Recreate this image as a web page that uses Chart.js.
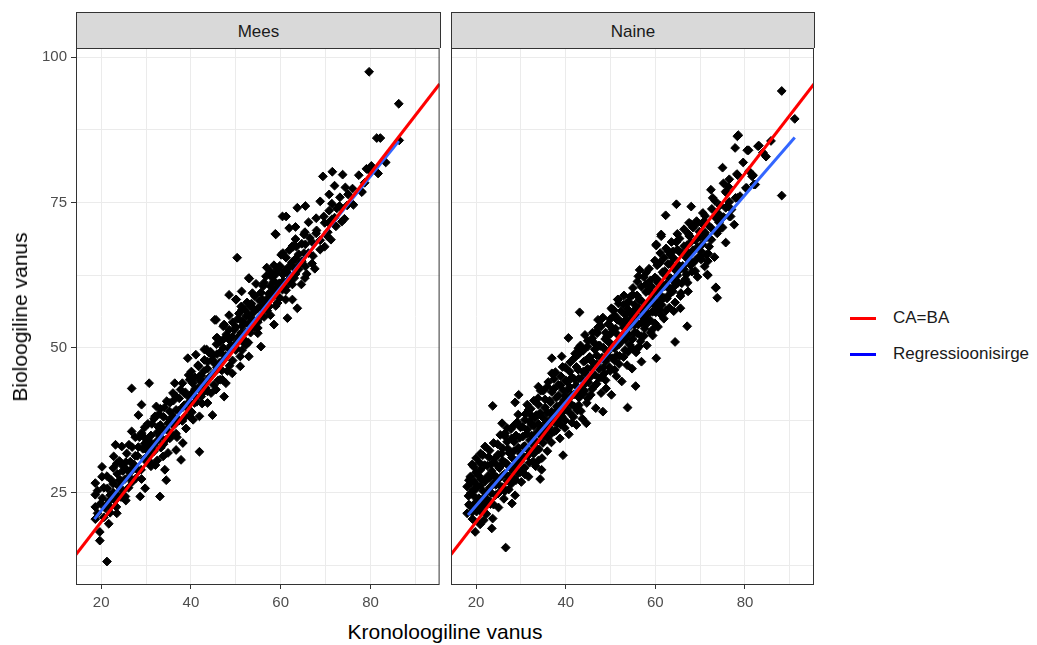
<!DOCTYPE html>
<html>
<head>
<meta charset="utf-8">
<script src="https://cdn.jsdelivr.net/npm/chart.js@4.4.1/dist/chart.umd.min.js"></script>
<style>
  body { margin: 0; background: #fff; font-family: "Liberation Sans", Arial, sans-serif; }
  #wrap { position: relative; width: 1037px; height: 645px; }
  canvas { position: absolute; }
  .strip { position: absolute; top: 12px; height: 35px; background: #d9d9d9; border: 1px solid #333;
           border-bottom: none; font-size: 17px; color: #1a1a1a; text-align: center; line-height: 37px; }
  .title { position: absolute; font-size: 21px; color: #000; white-space: nowrap; }
  .leg { position: absolute; font-size: 17px; color: #1a1a1a; white-space: nowrap; line-height: 20px; }
  .key { position: absolute; width: 26px; height: 3px; }
</style>
</head>
<body>
<div id="wrap">
  <canvas id="mees" width="445" height="580" style="left:0;top:40px"></canvas>
  <canvas id="naine" width="375" height="580" style="left:445px;top:40px"></canvas>
  <div class="strip" style="left:76px;width:363px">Mees</div>
  <div class="strip" style="left:451px;width:362px">Naine</div>
  <div class="title" style="left:445px;top:632px;transform:translate(-50%,-50%)">Kronoloogiline vanus</div>
  <div class="title" style="left:20px;top:317px;transform:translate(-50%,-50%) rotate(-90deg)">Bioloogiline vanus</div>
  <div class="key" style="left:850px;top:317px;background:#ff0000"></div>
  <div class="leg" style="left:893px;top:308px">CA=BA</div>
  <div class="key" style="left:850px;top:353px;background:#0000ff"></div>
  <div class="leg" style="left:893px;top:344px">Regressioonisirge</div>
</div>
<script>
// telgede jaotised
const xTicks = [20, 30, 40, 50, 60, 70, 80, 90];
const xLabels = [20, 40, 60, 80];
const yTicks = [12.5, 25, 37.5, 50, 62.5, 75, 87.5, 100];
const yLabels = [25, 50, 75, 100];

// CA=BA joon (y = x)
const caBa = [14.4, 95.4];

// regressioonisirged
const meesFit = [[18.5, 20.5], [86.3, 85.6]];
const naineFit = [[18.2, 21.2], [91.1, 86.2]];

// mehed: [kronoloogiline, bioloogiline]
const meesPoints = [
  [79.7,97.5],[86.3,92],[81.4,86.1],[82.2,86.1],[86.4,85.7],[21.3,13.2],[19.7,16.8],[19.7,18.3],[18.7,20.5],[21.7,19.7],
  [18.7,22.6],[18.7,24.7],[18.7,26.7],[20.2,27.8],[20.2,29.5],[22.8,31.3],[23.2,33.3],[24.6,33],[26.8,43],[30.7,43.9],
  [23.5,30.1],[25.7,29],[24.3,27.2],[25.4,24.4],[23.5,21.5],[22,22.6],[26.5,30.4],[29,40.2],[28.3,38.4],[26.8,35.6],
  [29.4,34.7],[30.1,32.4],[33.1,24.4],[34.5,27.2],[29.8,25.8],[28.7,24.4],[32.3,39.9],[32,38.2],[32.7,36.4],[33.1,34.7],
  [30.9,33.6],[33.8,31.3],[34.2,29],[31.2,30.1],[36.4,43.9],[36.7,41.6],[35.3,40.5],[36,38.2],[34.9,37],[38.2,33.6],
  [37.8,30.7],[36.7,32.4],[38.6,42.2],[39.7,44.5],[39.3,48.2],[41.1,48.8],[43,49.7],[44.1,49.1],[41.9,45.1],[40.4,43.9],
  [40.8,40.5],[42.6,42.2],[43.7,40.5],[44.8,38.4],[41.9,38.2],[39.7,38.2],[41.9,32.1],[44.8,47.9],[46.3,47.4],[47,44.5],
  [45.6,42.8],[47.4,41.6],[45.6,54.8],[47.4,54],[48.5,53.1],[45.9,51.7],[48.5,59.1],[50.3,65.5],[52.9,62],[50,58.3],
  [51.4,56.6],[53.3,57.4],[51,48.5],[52.9,48.5],[50,50.8],[51.8,50.8],
  [69.4,79.5],[71.5,80.3],[73.8,79.8],[79.1,80.8],[81.7,80],[78,76.9],[80.2,81.3],[63.7,74.1],[65.5,74.4],[60.4,72.6],
  [61.2,72.6],[61.9,70.6],[63.3,70.8],[58.9,69.5],[65.2,69.5],[62.8,67.4],[65.5,67.8],[61.2,65.5],[63.3,65.3],[61.9,64],
  [65.5,64],[67.6,63.6],[58.5,64.2],[53,61.9],[56.7,62.3],[57.8,62.6],[58.9,61.2],[60.4,60],[61.1,58.3],[62.6,58.3],
  [63.7,56.8],[61.5,55.1],[58.5,54],[56,58.3],[57.4,57.1],[59.3,57.7],[50.1,58.3],[51.2,57.1],[53.4,57.1],[52.3,55.4],
  [54.1,54.5],[45.3,54.8],[47.2,53.7],[45.7,51.7],[48.5,51.4],[55.6,50.2],[43.5,49.7],[53,53.1],[54.9,52.5],[51.2,52.5],
  [52.3,50.5],[79.5,80.7],[78.1,76.8],[78.7,78.4],[73.2,75.9],[71.4,74.8],[74.8,74.5],[74.2,72.2],[70.7,71.5],[72.3,70.9],
  [70.3,69.3],[71.2,68.6],[58.8,69.6],[62.6,67.5],[60.8,63.3],[47.8,43.9],[49.2,45.6],[51,46.8],[51.4,53.7],
  [20.3,24.1],[20.9,22.4],[21.4,25.8],[21.8,23.6],[22.3,27.2],[22.7,25.1],[23.1,23.7],[23.6,28.3],[24.0,26.1],[24.4,24.3],
  [24.9,29.6],[25.3,27.4],[25.7,31.8],[26.1,25.9],[26.5,28.6],[26.9,32.9],[27.3,29.9],[27.7,27.5],[28.1,31.4],[28.5,34.6],
  [28.9,29.0],[29.3,32.6],[29.7,36.3],[30.1,30.4],[30.5,34.1],[30.9,31.6],[31.3,36.9],[31.7,33.3],[32.1,29.8],[32.5,35.4],
  [32.9,38.6],[33.3,32.8],[33.7,36.0],[34.1,39.7],[34.5,34.2],[34.9,31.9],[35.3,37.6],[35.7,35.1],[36.1,40.9],[36.5,36.9],
  [36.9,34.6],[37.3,39.2],[37.7,42.8],[38.1,37.4],[38.5,40.1],[38.9,36.1],[39.3,41.7],[39.7,39.3],[40.1,45.9],[40.5,37.6],
  [40.9,42.9],[41.3,40.7],[41.7,46.8],[42.1,44.3],[42.5,40.4],[42.9,46.0],[43.3,43.1],[43.7,47.6],[44.1,44.9],[44.5,42.2],
  [44.9,48.7],[45.3,45.8],[45.7,50.6],[46.1,44.4],[46.5,49.2],[46.9,46.1],[47.3,51.5],[47.7,48.6],[48.1,46.0],[48.5,55.6],
  [48.9,50.4],[49.3,47.8],[49.7,53.1],[50.1,49.9],[50.5,55.0],[50.9,52.1],[51.3,59.7],[51.7,54.3],[52.1,51.2],[52.5,57.8],
  [52.9,55.7],[53.3,52.6],[53.7,59.4],[54.1,56.2],[54.5,61.0],[54.9,53.4],[55.3,58.1],[55.7,55.4],[56.1,60.6],[56.5,57.3],
  [56.9,63.8],[57.3,59.3],[57.7,55.6],[58.1,62.1],[58.5,59.8],[58.9,57.2],[59.3,63.4],[59.7,61.1],[60.1,66.0],[60.5,62.6],
  [61.0,60.4],[61.5,62.9],[62.0,61.2],[62.5,64.7],[63.0,62.0],[63.5,67.4],[64.0,64.2],[64.6,60.9],[65.2,66.3],[65.8,62.7],
  [66.5,68.9],[67.2,65.8],[68.0,70.2],[68.8,66.9],[69.6,72.6],[70.5,69.9],[71.4,72.1],[72.5,74.0],[73.6,71.7],[75.0,76.4],
  [76.2,74.6],[77.4,79.7],[83.4,81.9],
  [19.2,21.5],[19.2,25.4],[19.9,23.2],[20.6,20.8],[20.6,25.9],[21.3,23.0],[21.3,27.9],[22.0,24.6],[22.0,21.6],[22.7,26.6],
  [22.7,29.3],[23.4,24.8],[23.4,22.6],[24.1,27.2],[24.1,30.5],[24.8,25.4],[24.8,28.8],[25.5,23.7],[25.5,30.3],[26.2,27.8],
  [26.2,33.3],[26.9,29.2],[26.9,26.9],[27.6,31.4],[27.6,34.6],[28.3,28.8],[28.3,32.9],[29.0,27.4],[29.0,35.3],[29.7,30.9],
  [29.7,33.5],[30.4,32.8],[30.4,36.9],[31.1,29.6],[31.1,34.9],[31.8,37.8],[31.8,32.2],[32.5,34.0],[32.5,30.6],[33.2,36.7],
  [33.2,39.5],[33.9,33.4],[33.9,38.1],[34.6,35.9],[34.6,40.8],[35.3,34.4],[35.3,39.0],[36.0,36.7],[36.0,42.2],[36.7,39.3],
  [36.7,35.2],[37.4,41.3],[37.4,37.5],[38.1,43.9],[38.1,39.7],[38.8,38.2],[38.8,42.3],[39.5,40.6],[39.5,45.3],[40.2,42.1],
  [40.2,38.9],[40.9,44.9],[40.9,41.6],[41.6,43.1],[41.6,47.0],[42.3,41.6],[42.3,45.2],[43.0,44.1],[43.0,47.9],[43.7,42.5],
  [43.7,46.4],[44.4,49.3],[44.4,45.1],[45.1,47.4],[45.1,43.6],[45.8,48.9],[45.8,46.6],[46.5,51.0],[46.5,44.5],[47.2,47.9],
  [47.2,50.0],[47.9,52.3],[47.9,48.5],[48.6,49.7],[48.6,46.9],[49.3,51.9],[49.3,54.4],[50.0,49.6],[50.0,53.6],[50.7,51.4],
  [50.7,55.9],[51.4,54.6],[51.4,49.6],[52.1,52.6],[52.1,56.5],[52.8,54.1],[52.8,50.9],[53.5,57.6],[53.5,55.1],[54.2,53.5],
  [54.2,58.9],[54.9,56.8],[54.9,54.4],[55.6,59.5],[55.6,57.0],[56.3,55.3],[56.3,61.2],[57.0,58.4],[57.0,56.4],[57.7,60.6],
  [57.7,63.1],[58.4,58.8],[58.4,61.4],[59.1,62.8],[59.1,60.2],[59.8,58.6],[59.8,64.1],[60.5,61.4],[60.5,66.3],[61.2,63.3],
  [61.2,59.9],[61.9,61.8],[61.9,66.8],[62.6,64.0],[62.6,60.9],[63.3,62.7],[63.3,68.7],[64.0,66.1],[64.0,63.5],[64.7,67.9],
  [64.7,64.9],[65.4,62.0],[65.4,69.9],[66.2,66.3],[66.2,71.6],[67.0,68.2],[67.0,64.5],[67.9,69.7],[67.9,72.3],[68.8,68.5],
  [68.8,75.2],[69.8,71.5],[69.8,67.4],[70.8,73.6],[70.8,76.4],[72.0,72.4],[72.0,77.9],[73.1,74.4],[74.4,77.6],[76.0,77.4]
];

// naised
const nainePoints = [
  [26.6,15.6],[23.7,40],[29.5,41.9],[28.7,40.6],[43.1,56.1],[53.8,39.7],[54.9,59.1],[55.6,43.4],[48.3,39],[44.6,37],
  [42.4,36.7],[39.4,31.5],[34.3,27.4],[34.6,29],[28,23.2],[23.5,18.9],[21.7,20.3],[19.8,18.3],[18,21.5],[18,26.1],
  [18.7,27.8],[21,31.8],[19.5,29.5],[25.8,37],[26.5,35.3],[31.7,39.3],[33.9,43.3],[36.9,48.2],[36.9,45.6],[39.1,48.5],
  [40.6,51.7],[44.3,52.2],[42.8,49.9],[47.2,54.8],[50.2,56.8],[51.6,58.3],
  [78.5,86.6],[77.8,84.4],[80.8,84],[83.1,84.8],[75,81],[78.2,79.9],[81.6,79.5],[72.4,77.2],[72.8,75.8],[75.7,76.9],
  [80.2,77.5],[82,78.1],[77.9,75.8],[75.7,74.1],[76.8,72.6],[77.6,71.2],[64.7,74.7],[68,74.3],[62.3,72.8],[67.5,71.5],
  [69.2,71.8],[73.8,72.1],[61.3,69.2],[64.7,68.2],[67.6,69.2],[70.9,68.9],[60.2,67.6],[63.2,66],[66.9,66.3],[69.8,65.7],
  [71.7,64.9],[71.7,62.5],[73.5,60.4],[56.5,63.4],[56.2,62.3],[61,64.6],[62.1,63.2],[65.4,63.4],[68.4,64.6],[57.9,60.9],
  [60.5,61.2],[63.2,60],[65.7,59.4],[67.2,61.2],[55,59.1],[51.7,58.3],[53.6,57.7],[50.4,56.6],[47.8,54.8],[51.5,54.8],
  [54.8,56],[57.4,56.8],[60.7,57.4],[64.1,56.3],[65.6,56.8],[67.1,53.7],[64.4,51],[59.3,53.1],[56.8,52],[60.2,48.2],
  [55.8,49.7],[52.9,51.4],[49.2,52],[47,52.5],[50,53.7],[57.9,54.8],[52.9,54.3],
  [88.2,94.2],[91.1,89.4],[88.2,76.2],[78.3,86.4],[80.5,84],[82.9,84.7],[84,83.6],[78.4,79.7],[81.8,79.7],[82.3,78.1],
  [80.4,77.5],[75.8,76.7],[78.3,75.8],[76.1,74.4],[76.5,72.6],[61.3,69.5],[67.6,69.3],[70.9,71.8],[73.9,70.1],[71.6,62.6],
  [73.5,60.3],[60.2,67.8],[71.3,66],[70.2,65.2],[73.8,58.6],
  [18.3,24.5],[18.6,22.8],[18.9,26.8],[19.2,20.5],[19.4,25.5],[19.7,23.2],[19.9,28.5],[20.1,21.8],[20.3,26.2],[20.6,24.1],
  [20.8,30.2],[20.9,19.6],[21.2,27.4],[21.4,22.9],[21.6,25.3],[21.9,29.8],[22.1,24.2],[22.3,21.4],[22.6,27.9],[22.8,31.2],
  [23.0,25.9],[23.2,23.1],[23.5,28.8],[23.7,20.6],[23.9,26.6],[24.1,30.9],[24.3,24.6],[24.6,27.7],[24.8,33.4],[25.0,22.5],
  [25.2,29.3],[25.5,26.1],[25.7,31.8],[25.9,28.0],[26.2,24.0],[26.4,34.8],[26.6,30.2],[26.9,27.1],[27.1,32.6],[27.3,25.6],
  [27.6,29.4],[27.8,36.0],[28.0,31.1],[28.3,27.7],[28.5,33.8],[28.7,24.6],[29.0,30.5],[29.2,37.2],[29.4,28.4],[29.7,34.5],
  [29.9,31.8],[30.1,26.9],[30.3,36.4],[30.6,33.0],[30.8,29.3],[31.0,38.6],[31.3,35.2],[31.5,31.4],[31.7,27.8],[32.0,34.1],
  [32.2,39.5],[32.4,36.8],[32.7,30.4],[32.9,33.2],[33.1,37.9],[33.3,29.6],[33.6,35.4],[33.8,41.3],[34.0,32.5],[34.3,38.8],
  [34.5,36.1],[34.7,31.0],[35.0,42.6],[35.2,34.9],[35.4,39.7],[35.7,37.2],[35.9,32.2],[36.1,44.1],[36.3,36.3],[36.6,40.6],
  [36.8,33.7],[37.0,38.5],[37.3,42.9],[37.5,35.6],[37.7,45.8],[38.0,39.9],[38.2,37.0],[38.4,41.8],[38.7,34.4],[38.9,43.6],
  [39.1,38.2],[39.3,46.7],[39.6,41.0],[39.8,36.2],[40.0,44.4],[40.3,39.4],[40.5,42.7],[40.7,35.1],[41.0,47.5],[41.2,40.3],
  [41.4,44.9],[41.7,38.1],[41.9,42.0],[42.1,49.0],[42.3,43.5],[42.6,39.2],[42.8,46.2],[43.0,41.4],[43.3,50.4],[43.5,44.7],
  [43.7,37.8],[44.0,47.6],[44.2,42.6],[44.4,45.6],[44.7,40.5],[44.9,51.2],[45.1,44.0],[45.3,48.4],[45.6,41.9],[45.8,46.5],
  [46.0,52.6],[46.3,43.3],[46.5,49.7],[46.7,39.6],[47.0,47.2],[47.2,53.5],[47.4,44.8],[47.7,50.3],[47.9,42.2],[48.1,48.3],
  [48.3,55.2],[48.6,45.6],[48.8,51.5],[49.0,43.0],[49.3,49.2],[49.5,54.1],[49.7,46.7],[50.0,52.4],[50.2,41.9],[50.4,50.1],
  [50.7,56.5],[50.9,47.8],[51.1,53.3],[51.3,45.1],[51.6,51.0],[51.8,57.6],[52.0,48.6],[52.3,54.4],[52.5,44.2],[52.7,52.2],
  [53.0,59.0],[53.2,49.6],[53.4,55.6],[53.7,47.0],[53.9,53.4],[54.1,57.9],[54.3,50.5],[54.6,54.9],[54.8,46.4],[55.0,60.3],
  [55.3,52.6],[55.5,56.6],[55.7,49.2],[56.0,61.4],[56.2,54.0],[56.4,58.2],[56.7,51.1],[56.9,47.6],[57.1,56.3],[57.4,62.2],
  [57.6,53.3],[57.9,59.6],[58.1,50.4],[58.4,57.2],[58.6,63.6],[58.9,54.7],[59.1,60.5],[59.4,52.1],[59.6,58.3],[59.9,65.0],
  [60.1,56.1],[60.4,61.8],[60.6,53.6],[60.9,59.2],[61.1,66.3],[61.4,57.4],[61.6,63.0],[61.9,55.0],[62.1,60.6],[62.4,67.1],
  [62.6,58.5],[62.9,64.4],[63.1,56.9],[63.4,62.0],[63.6,68.2],[63.9,59.7],[64.1,65.4],[64.4,57.8],[64.6,63.3],[64.9,69.6],
  [65.1,61.2],[65.4,66.5],[65.6,58.9],[66.1,64.1],[66.4,70.4],[66.7,61.8],[67.0,67.6],[67.3,59.7],[67.6,65.0],[67.9,71.3],
  [68.2,63.1],[69.0,68.5],[69.4,62.2],[69.8,70.0],[70.2,66.6],[70.6,73.2],[71.0,64.0],[71.5,69.0],[72.0,67.4],[72.6,73.9],
  [73.2,65.6],[73.8,69.7],[74.4,74.5],[75.0,70.7],[75.7,68.1],[76.3,77.7],[77.0,73.8],[78.9,76.1],[79.6,81.9],[80.9,80.4],
  [84.7,82.9],[85.8,85.6],
  [18.4,23.0],[18.4,27.2],[18.8,25.0],[19.1,21.7],[19.1,29.9],[19.6,24.4],[19.6,27.0],[20.0,22.6],[20.0,25.7],[20.0,31.0],
  [20.5,28.0],[20.5,23.4],[21.0,26.3],[21.0,21.9],[21.0,29.0],[21.5,24.0],[21.5,31.5],[22.0,27.0],[22.0,22.9],[22.0,33.0],
  [22.5,25.2],[22.5,29.7],[23.0,23.6],[23.0,27.6],[23.0,32.3],[23.4,30.0],[23.4,25.0],[23.9,28.2],[23.9,33.6],[23.9,23.0],
  [24.4,26.4],[24.4,30.0],[24.9,31.6],[24.9,27.3],[24.9,24.9],[25.4,29.6],[25.4,35.0],[25.9,26.0],[25.9,32.7],[25.9,30.6],
  [26.4,28.3],[26.4,25.3],[26.9,33.8],[26.9,30.0],[26.9,36.2],[27.4,27.9],[27.4,31.9],[27.9,34.4],[27.9,29.1],[27.9,26.6],
  [28.4,32.2],[28.4,36.6],[28.9,29.7],[28.9,34.9],[28.9,27.2],[29.4,32.8],[29.4,38.5],[29.9,30.4],[29.9,36.3],[29.9,28.6],
  [30.4,34.7],[30.4,31.3],[30.9,37.6],[30.9,33.1],[30.9,28.2],[31.4,35.9],[31.4,40.2],[31.9,32.2],[31.9,37.3],[31.9,30.2],
  [32.4,34.9],[32.4,38.3],[32.9,36.5],[32.9,31.8],[32.9,40.9],[33.4,33.9],[33.4,38.4],[33.9,36.9],[33.9,30.6],[33.9,40.2],
  [34.4,34.9],[34.4,42.6],[34.9,38.0],[34.9,33.6],[34.9,36.2],[35.4,41.1],[35.4,35.5],[35.9,38.8],[35.9,34.5],[35.9,43.3],
  [36.4,37.5],[36.4,40.9],[36.9,35.3],[36.9,42.4],[36.9,39.0],[37.4,37.2],[37.4,44.6],[37.9,41.4],[37.9,35.8],[37.9,39.1],
  [38.4,43.6],[38.4,37.9],[38.9,40.2],[38.9,45.1],[38.9,36.8],[39.4,42.7],[39.4,39.0],[39.9,37.5],[39.9,41.7],[39.9,46.6],
  [40.4,44.1],[40.4,40.6],[40.9,38.8],[40.9,43.2],[40.9,45.9],[41.4,41.8],[41.4,37.1],[41.9,44.6],[41.9,48.2],[41.9,39.9],
  [42.4,42.2],[42.4,46.7],[42.9,40.1],[42.9,44.7],[42.9,48.9],[43.4,43.0],[43.4,39.1],[43.9,45.9],[43.9,49.5],[43.9,42.1],
  [44.4,47.8],[44.4,43.9],[44.9,41.3],[44.9,46.4],[44.9,50.2],[45.4,44.9],[45.4,48.4],[45.9,42.9],[45.9,47.6],[45.9,51.6],
  [46.4,45.4],[46.4,50.8],[46.9,48.7],[46.9,43.8],[46.9,52.8],[47.4,46.4],[47.4,50.4],[47.9,44.9],[47.9,48.2],[47.9,53.7],
  [48.4,50.0],[48.4,46.6],[48.9,47.7],[48.9,52.6],[48.9,44.4],[49.4,51.1],[49.4,48.6],[49.9,46.0],[49.9,50.8],[49.9,54.9],
  [50.4,53.2],[50.4,48.2],[50.9,49.9],[50.9,55.6],[50.9,46.2],[51.4,52.4],[51.4,48.7],[51.9,50.6],[51.9,54.8],[51.9,47.2],
  [52.4,56.3],[52.4,51.4],[52.9,48.4],[52.9,53.5],[52.9,57.4],[53.4,51.4],[53.4,54.8],[53.9,49.3],[53.9,56.6],[53.9,52.3],
  [54.4,53.8],[54.4,58.8],[54.9,51.5],[54.9,55.6],[54.9,49.9],[55.4,57.4],[55.4,53.9],[55.9,52.5],[55.9,59.0],[55.9,55.5],
  [56.4,56.8],[56.4,50.2],[56.9,54.3],[56.9,60.5],[56.9,58.1],[57.4,55.1],[57.4,52.0],[57.9,57.0],[57.9,62.9],[57.9,54.0],
  [58.4,59.8],[58.4,55.8],[58.9,57.9],[58.9,61.6],[58.9,52.6],[59.4,56.2],[59.4,59.3],[59.9,62.1],[59.9,57.3],[59.9,54.2],
  [60.4,59.6],[60.4,64.2],[60.9,56.6],[60.9,61.3],[60.9,58.0],[61.4,60.4],[61.4,55.6],[61.9,62.7],[61.9,58.6],[61.9,65.4],
  [62.4,60.9],[62.4,56.4],[62.9,62.1],[62.9,66.6],[62.9,59.0],[63.4,64.4],[63.4,60.1],[63.9,61.6],[63.9,66.6],[64.4,63.4],
  [64.4,60.7],[64.9,66.9],[64.9,62.4],[65.4,64.1],[65.4,68.8],[65.9,61.1],[65.9,66.3],[66.4,63.5],[66.4,67.5],[66.9,65.5],
  [66.9,62.6],[67.4,69.6],[67.4,66.3],[67.9,64.2],[67.9,68.2],[68.4,66.8],[68.4,70.7],[68.9,65.0],[68.9,63.2],[69.4,67.3],
  [69.4,71.5],[70.0,69.1],[70.0,65.7],[70.5,71.3],[70.5,67.8],[71.1,69.8],[71.1,72.7],[71.8,66.2],[71.8,71.1],[72.5,70.6],
  [72.5,68.6],[73.3,72.6],[73.3,75.3],[74.2,71.6],[74.2,73.0],[75.2,72.5],[75.2,78.3],[76.5,75.1],[76.5,79.0]
];

const fontFamily = '"Liberation Sans", Arial, sans-serif';

const panelBorder = {
    id: 'panelBorder',
    afterDraw(chart) {
        const a = chart.chartArea;
        const ctx = chart.ctx;
        ctx.save();
        ctx.strokeStyle = '#333333';
        ctx.lineWidth = 1;
        ctx.strokeRect(a.left + 0.5, a.top + 0.5, a.right - a.left - 1, a.bottom - a.top - 1);
        ctx.restore();
    }
};

function toXY(pairs) {
    return pairs.map(p => ({ x: p[0], y: p[1] }));
}

function makePanel(id, points, fit, showY) {
    const ctx = document.getElementById(id).getContext('2d');
    new Chart(ctx, {
        type: 'scatter',
        data: {
            datasets: [
                {
                    data: toXY([[caBa[0], caBa[0]], [caBa[1], caBa[1]]]),
                    showLine: true, borderColor: '#ff0000', borderWidth: 3,
                    pointRadius: 0, order: 0
                },
                {
                    data: toXY(fit),
                    showLine: true, borderColor: '#3366ff', borderWidth: 3,
                    pointRadius: 0, order: 1
                },
                {
                    data: toXY(points),
                    pointStyle: 'rectRot', pointRadius: 4.4,
                    backgroundColor: '#000', borderColor: '#000', borderWidth: 1,
                    order: 2
                }
            ]
        },
        options: {
            responsive: false,
            animation: false,
            devicePixelRatio: 1,
            layout: { padding: showY ? { top: 8, right: 5, left: 0, bottom: 0 } : { top: 8, right: 6, left: 6, bottom: 0 } },
            plugins: { legend: { display: false }, tooltip: { enabled: false } },
            scales: {
                x: {
                    type: 'linear', min: 14.4, max: 95.4,
                    afterBuildTicks: s => { s.ticks = xTicks.map(v => ({ value: v })); },
                    afterFit: s => { s.height = 35; s.paddingLeft = 0; s.paddingRight = 0; },
                    border: { display: false },
                    grid: {
                        color: '#ebebeb', lineWidth: 1, tickLength: 4,
                        tickColor: c => xLabels.includes(c.tick.value) ? '#333333' : 'rgba(0,0,0,0)'
                    },
                    ticks: {
                        autoSkip: false, maxRotation: 0, padding: 5, color: '#4d4d4d',
                        font: { family: fontFamily, size: 15 },
                        callback: v => xLabels.includes(v) ? String(v) : ''
                    }
                },
                y: {
                    type: 'linear', min: 9.16, max: 101.6,
                    afterBuildTicks: s => { s.ticks = yTicks.map(v => ({ value: v })); },
                    afterFit: s => { s.width = showY ? 76 : 0; s.paddingTop = 0; s.paddingBottom = 0; },
                    border: { display: false },
                    grid: {
                        color: '#ebebeb', lineWidth: 1, tickLength: 5, drawTicks: showY,
                        tickColor: c => yLabels.includes(c.tick.value) ? '#333333' : 'rgba(0,0,0,0)'
                    },
                    ticks: {
                        display: showY, padding: 4, color: '#4d4d4d',
                        font: { family: fontFamily, size: 15 },
                        callback: v => yLabels.includes(v) ? String(v) : ''
                    }
                }
            }
        },
        plugins: [panelBorder]
    });
}

makePanel('mees', meesPoints, meesFit, true);
makePanel('naine', nainePoints, naineFit, false);
</script>
</body>
</html>
